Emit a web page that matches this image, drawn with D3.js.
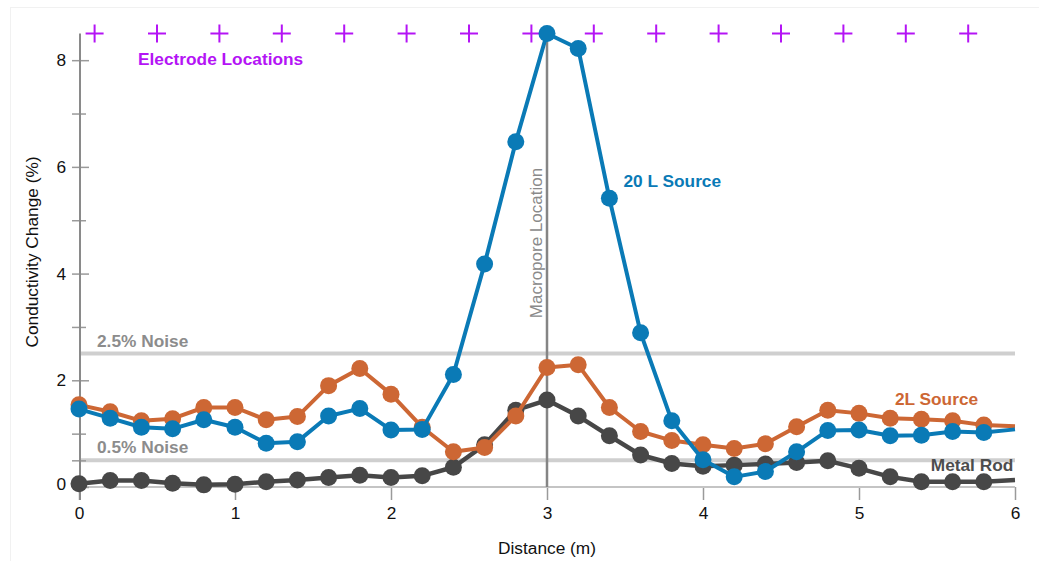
<!DOCTYPE html>
<html>
<head>
<meta charset="utf-8">
<script src="https://cdn.jsdelivr.net/npm/d3@7"></script>
<style>
  html, body { margin: 0; padding: 0; background: #fff; }
  svg { display: block; font-family: "Liberation Sans", Arial, sans-serif; }
</style>
</head>
<body>
<svg id="chart" width="1039" height="561"></svg>
<script>
// Distance along the transect (m) for each measurement, plus the line end at 6 m
const distance = [0, 0.2, 0.4, 0.6, 0.8, 1.0, 1.2, 1.4, 1.6, 1.8, 2.0, 2.2, 2.4, 2.6, 2.8,
                  3.0, 3.2, 3.4, 3.6, 3.8, 4.0, 4.2, 4.4, 4.6, 4.8, 5.0, 5.2, 5.4, 5.6, 5.8, 6.0];

// Conductivity change (%) per series
const source20L = [1.46, 1.29, 1.12, 1.09, 1.26, 1.12, 0.82, 0.85, 1.33, 1.47, 1.07, 1.08, 2.11, 4.18, 6.47,
                   8.50, 8.22, 5.41, 2.89, 1.24, 0.51, 0.19, 0.29, 0.66, 1.06, 1.07, 0.96, 0.97, 1.04, 1.02, 1.08];
const source2L  = [1.54, 1.41, 1.24, 1.28, 1.49, 1.49, 1.26, 1.32, 1.90, 2.22, 1.74, 1.12, 0.66, 0.74, 1.33,
                   2.24, 2.29, 1.49, 1.04, 0.87, 0.79, 0.72, 0.81, 1.13, 1.44, 1.38, 1.29, 1.27, 1.24, 1.16, 1.14];
const metalRod  = [0.06, 0.12, 0.12, 0.07, 0.04, 0.05, 0.10, 0.13, 0.18, 0.22, 0.18, 0.21, 0.37, 0.79, 1.44,
                   1.63, 1.33, 0.96, 0.60, 0.44, 0.39, 0.41, 0.43, 0.46, 0.49, 0.35, 0.19, 0.10, 0.10, 0.10, 0.13];

// Electrode positions (m)
const electrodes = [0.1, 0.5, 0.9, 1.3, 1.7, 2.1, 2.5, 2.9, 3.3, 3.7, 4.1, 4.5, 4.9, 5.3, 5.7];

// Reference levels
const noiseLevels = [2.5, 0.5];
const noiseLabels = ["2.5% Noise", "0.5% Noise"];
const macroporeX = 3;

const xTicks = [0, 1, 2, 3, 4, 5, 6];
const yTicks = [0, 0.5, 1, 2, 3, 4, 5, 6, 7, 8];
const yLabelled = [0, 2, 4, 6, 8];

const series = [
  { name: "Metal Rod",   values: metalRod,  color: "#474747", width: 4.5 },
  { name: "2L Source",   values: source2L,  color: "#cd6734", width: 4 },
  { name: "20 L Source", values: source20L, color: "#0a7ab6", width: 4 }
];

const svg = d3.select("#chart");
const W = 1039, H = 561;

// faint frame
svg.append("rect").attr("x", 10.5).attr("y", 7.5).attr("width", W - 10).attr("height", H - 6)
  .attr("fill", "none").attr("stroke", "#f1f1f1").attr("stroke-width", 1);

const x = d3.scaleLinear().domain([0, 6]).range([79, 1015]);
const y = d3.scaleLinear().domain([0, 8.5]).range([487, 33.5]);

const font = 17.3;

// noise reference lines
const noise = svg.append("g");
noiseLevels.forEach((v, i) => {
  noise.append("line")
    .attr("x1", x(0)).attr("x2", x(6)).attr("y1", y(v)).attr("y2", y(v))
    .attr("stroke", "#cfcfcf").attr("stroke-width", 4);
  noise.append("text")
    .attr("x", 97).attr("y", y(v) - 7)
    .attr("font-size", font).attr("font-weight", "bold").attr("fill", "#8c8c8c")
    .text(noiseLabels[i]);
});

// x axis
const xAxis = svg.append("g").attr("transform", `translate(0,${y(0)})`)
  .call(d3.axisBottom(x).tickValues(xTicks).tickFormat(d3.format("d")).tickSize(13).tickPadding(7));
xAxis.select(".domain").remove();
xAxis.selectAll(".tick line").attr("stroke", "#9a9a9a").attr("stroke-width", 1.5);
xAxis.selectAll(".tick text").attr("font-size", font).attr("fill", "#111").attr("font-family", "Liberation Sans, Arial, sans-serif");
svg.append("line").attr("x1", x(0)).attr("x2", x(6)).attr("y1", y(0)).attr("y2", y(0))
  .attr("stroke", "#c4c4c4").attr("stroke-width", 2);

// y axis
const yAxis = svg.append("g").attr("transform", `translate(${x(0) + 1},0)`)
  .call(d3.axisLeft(y).tickValues(yTicks)
    .tickFormat(d => yLabelled.includes(d) ? d3.format("d")(d) : "")
    .tickSize(8).tickPadding(6));
yAxis.select(".domain").remove();
yAxis.selectAll(".tick line")
  .attr("x2", -8)
  .attr("x1", d => yLabelled.includes(d) ? 9 : 6)
  .attr("stroke", "#9a9a9a").attr("stroke-width", 1.5);
yAxis.selectAll(".tick text").attr("font-size", font).attr("fill", "#111")
  .attr("font-family", "Liberation Sans, Arial, sans-serif")
  .attr("dy", d => d === 0 ? "0.15em" : "0.32em");
svg.append("line").attr("x1", x(0) + 1).attr("x2", x(0) + 1).attr("y1", y(8.5)).attr("y2", 500)
  .attr("stroke", "#8a8a8a").attr("stroke-width", 2);

// axis titles
svg.append("text").attr("x", x(3)).attr("y", 554).attr("text-anchor", "middle")
  .attr("font-size", font).attr("fill", "#111").text("Distance (m)");
svg.append("text").attr("transform", `translate(38,252) rotate(-90)`).attr("text-anchor", "middle")
  .attr("font-size", font).attr("fill", "#111").text("Conductivity Change (%)");

// macropore marker
svg.append("line").attr("x1", x(macroporeX)).attr("x2", x(macroporeX)).attr("y1", y(8.5)).attr("y2", y(0))
  .attr("stroke", "#858585").attr("stroke-width", 2.5);
svg.append("text").attr("transform", `translate(${x(macroporeX) - 5},243) rotate(-90)`)
  .attr("text-anchor", "middle").attr("font-size", 17).attr("fill", "#8a8a8a")
  .text("Macropore Location");

// electrodes
const purple = "#b414f5";
const cross = svg.append("g").attr("stroke", purple).attr("stroke-width", 2);
electrodes.forEach(e => {
  const cx = x(e), cy = y(8.5);
  cross.append("line").attr("x1", cx - 9).attr("x2", cx + 9).attr("y1", cy).attr("y2", cy);
  cross.append("line").attr("x1", cx).attr("x2", cx).attr("y1", cy - 9).attr("y2", cy + 9);
});
svg.append("text").attr("x", 138).attr("y", 64.5).attr("font-size", font).attr("font-weight", "bold")
  .attr("fill", purple).text("Electrode Locations");

// data series
const line = d3.line().x((d, i) => x(distance[i])).y(d => y(d));
series.forEach(s => {
  const g = svg.append("g");
  g.append("path").datum(s.values).attr("d", line)
    .attr("fill", "none").attr("stroke", s.color).attr("stroke-width", s.width)
    .attr("stroke-linejoin", "round");
  g.selectAll("circle").data(s.values.slice(0, -1)).join("circle")
    .attr("cx", (d, i) => x(distance[i])).attr("cy", d => y(d)).attr("r", 8.5)
    .attr("fill", s.color);
});

// series labels
const labels = [
  { text: "20 L Source", at: [3.49, 5.62], color: "#0a7ab6" },
  { text: "2L Source",   at: [5.23, 1.53], color: "#cd6734" },
  { text: "Metal Rod",   at: [5.46, 0.30], color: "#4d4d4d" }
];
labels.forEach(l => {
  svg.append("text").attr("x", x(l.at[0])).attr("y", y(l.at[1]))
    .attr("font-size", font).attr("font-weight", "bold").attr("fill", l.color).text(l.text);
});
</script>
</body>
</html>
